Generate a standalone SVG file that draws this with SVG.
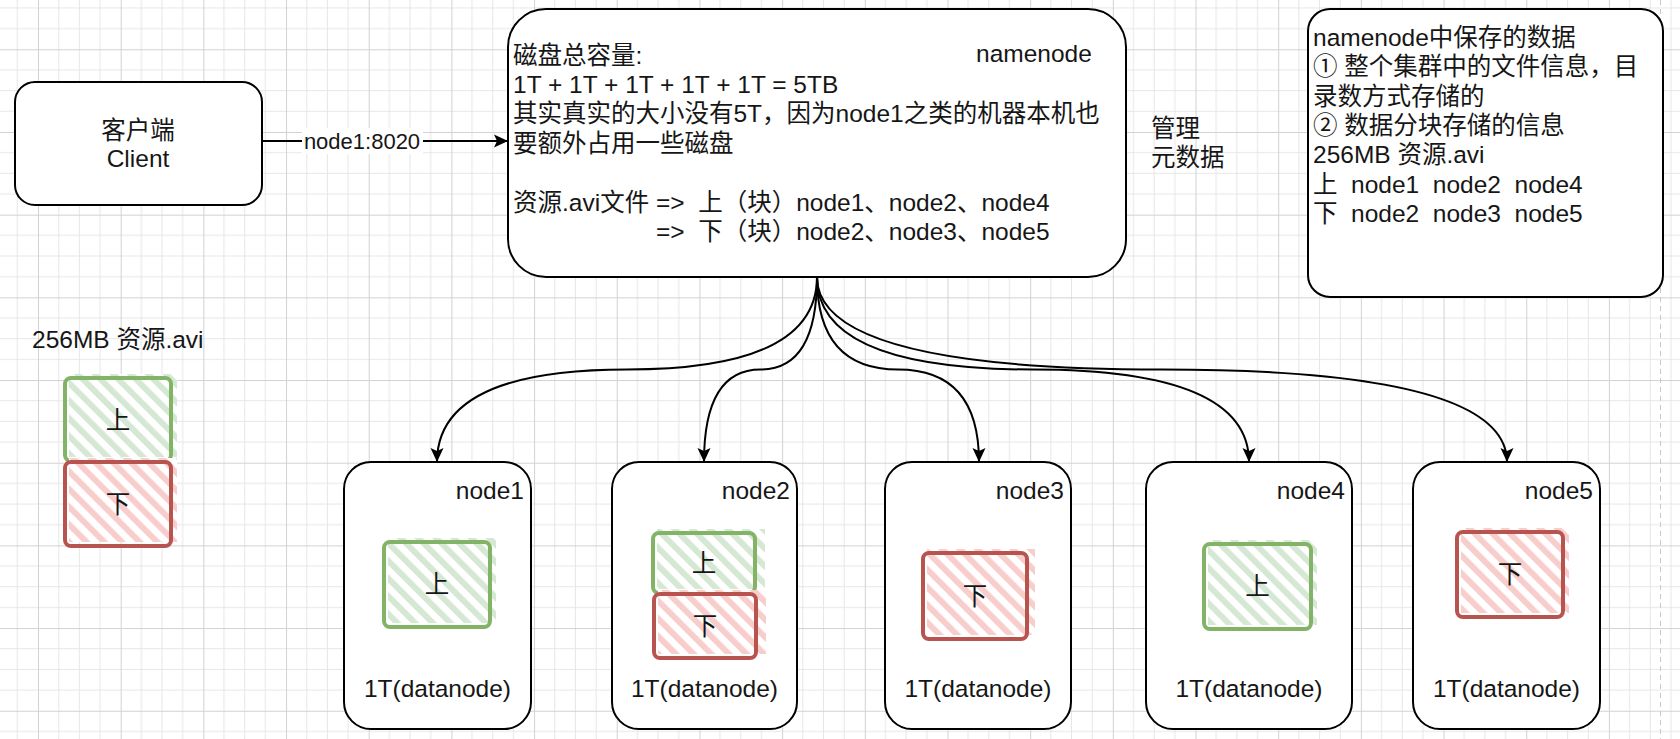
<svg xmlns="http://www.w3.org/2000/svg" width="1680" height="739" viewBox="0 0 1680 739">
<defs>
<style>
.t{font-family:"Liberation Sans","Noto Sans CJK SC",sans-serif;font-size:24.5px;fill:#161616}
.lbl{font-size:22px}
.box{fill:#fff;stroke:#000;stroke-width:2}
.edge{fill:none;stroke:#000;stroke-width:2}
.gb{fill:none;stroke:#82b366;stroke-width:4;stroke-linejoin:round}
.rb{fill:none;stroke:#b85450;stroke-width:4;stroke-linejoin:round}
.mid{text-anchor:middle}
.end{text-anchor:end}
</style>
<pattern id="grid" patternUnits="userSpaceOnUse" x="38" y="49.3" width="82.68" height="82.68">
<path d="M20.67,0V82.68M41.34,0V82.68M62.01,0V82.68M0,20.67H82.68M0,41.34H82.68M0,62.01H82.68" stroke="#e6e6e6" stroke-width="1"/>
<path d="M0.5,0V82.68M0,0.5H82.68" stroke="#d2d2d2" stroke-width="1"/>
</pattern>
<pattern id="hg" patternUnits="userSpaceOnUse" width="12.5" height="12.5" patternTransform="rotate(-45)">
<rect width="12.5" height="12.5" fill="#fff"/><rect width="6" height="12.5" fill="#d5e8d4"/>
</pattern>
<pattern id="hr" patternUnits="userSpaceOnUse" width="12.5" height="12.5" patternTransform="rotate(-45)">
<rect width="12.5" height="12.5" fill="#fff"/><rect width="6" height="12.5" fill="#f8cecc"/>
</pattern>
<marker id="arr" markerUnits="userSpaceOnUse" markerWidth="15" markerHeight="15" refX="14" refY="7.5" orient="auto">
<path d="M0,1 L14,7.5 L0,14 L3,7.5 Z" fill="#000"/>
</marker>
</defs>
<rect width="1680" height="739" fill="#fff"/>
<rect width="1680" height="739" fill="url(#grid)"/>
<path d="M1660.5,0V739" stroke="#c8c8c8" stroke-width="1" stroke-dasharray="5 4"/>

<g id="connectors">
<path class="edge" d="M262,141 H508" marker-end="url(#arr)"/>
<rect x="302" y="128" width="121" height="26" fill="#fff"/>
<text class="t lbl mid" x="362" y="149">node1:8020</text>
<path class="edge" d="M817,277 Q817,369.5 627,369.5 Q437,369.5 437,462" marker-end="url(#arr)"/>
<path class="edge" d="M817,277 Q817,369.5 760.5,369.5 Q704,369.5 704,462" marker-end="url(#arr)"/>
<path class="edge" d="M817,277 Q817,369.5 898,369.5 Q979,369.5 979,462" marker-end="url(#arr)"/>
<path class="edge" d="M817,277 Q817,369.5 1033,369.5 Q1249,369.5 1249,462" marker-end="url(#arr)"/>
<path class="edge" d="M817,277 Q817,369.5 1162,369.5 Q1507,369.5 1507,462" marker-end="url(#arr)"/>
</g>

<g id="client">
<rect class="box" x="15" y="82" width="247" height="123" rx="20"/>
<text class="t mid" x="138" y="139">客户端</text>
<text class="t mid" x="138" y="167">Client</text>
</g>

<g id="namenode">
<rect class="box" x="508" y="9" width="618" height="268" rx="38"/>
<text class="t" x="976" y="62">namenode</text>
<text class="t" x="513" y="63.5">磁盘总容量:</text>
<text class="t" x="513" y="92.9">1T + 1T + 1T + 1T + 1T = 5TB</text>
<text class="t" x="513" y="122.3">其实真实的大小没有5T，因为node1之类的机器本机也</text>
<text class="t" x="513" y="151.7">要额外占用一些磁盘</text>
<text class="t" x="513" y="210.5" xml:space="preserve">资源.avi文件 =&gt;  上（块）node1、node2、node4</text>
<text class="t" x="656" y="239.9" xml:space="preserve">=&gt;  下（块）node2、node3、node5</text>
</g>

<g id="meta-label">
<text class="t" x="1151" y="137">管理</text>
<text class="t" x="1151" y="166">元数据</text>
</g>

<g id="namenode-data">
<rect class="box" x="1308" y="9" width="355" height="288" rx="22"/>
<text class="t" x="1313" y="46">namenode中保存的数据</text>
<text class="t" x="1313" y="75.3">① 整个集群中的文件信息，目</text>
<text class="t" x="1313" y="104.6">录数方式存储的</text>
<text class="t" x="1313" y="134">② 数据分块存储的信息</text>
<text class="t" x="1313" y="163.2">256MB 资源.avi</text>
<text class="t" x="1313" y="192.5" xml:space="preserve">上  node1  node2  node4</text>
<text class="t" x="1313" y="221.8" xml:space="preserve">下  node2  node3  node5</text>
</g>

<g id="file">
<text class="t" x="32" y="348">256MB 资源.avi</text>
<rect x="69" y="374" width="108" height="83" fill="url(#hg)"/>
<rect class="gb" x="65" y="378" width="106" height="83" rx="6"/>
<text class="t mid" x="118" y="429">上</text>
<rect x="69" y="458" width="108" height="84" fill="url(#hr)"/>
<rect class="rb" x="65" y="462" width="106" height="84" rx="6"/>
<text class="t mid" x="118" y="513">下</text>
</g>

<g id="node1">
<rect class="box" x="344" y="462" width="187" height="267" rx="27"/>
<text class="t end" x="524" y="499">node1</text>
<rect x="388" y="538" width="108" height="85" fill="url(#hg)"/>
<rect class="gb" x="384" y="542" width="106" height="85" rx="6"/>
<text class="t mid" x="437" y="593">上</text>
<text class="t mid" x="437.5" y="697">1T(datanode)</text>
</g>

<g id="node2">
<rect class="box" x="612" y="462" width="185" height="267" rx="27"/>
<text class="t end" x="790" y="499">node2</text>
<rect x="657" y="529" width="108" height="60" fill="url(#hg)"/>
<rect class="gb" x="653" y="533" width="102" height="60" rx="6"/>
<text class="t mid" x="704" y="572">上</text>
<rect x="658" y="590" width="108" height="64" fill="url(#hr)"/>
<rect class="rb" x="654" y="594" width="102" height="64" rx="6"/>
<text class="t mid" x="705" y="635">下</text>
<text class="t mid" x="704.5" y="697">1T(datanode)</text>
</g>

<g id="node3">
<rect class="box" x="885" y="462" width="186" height="267" rx="27"/>
<text class="t end" x="1064" y="499">node3</text>
<rect x="927" y="549" width="108" height="86" fill="url(#hr)"/>
<rect class="rb" x="923" y="553" width="104" height="86" rx="6"/>
<text class="t mid" x="975" y="605">下</text>
<text class="t mid" x="978" y="697">1T(datanode)</text>
</g>

<g id="node4">
<rect class="box" x="1146" y="462" width="206" height="267" rx="27"/>
<text class="t end" x="1345" y="499">node4</text>
<rect x="1208" y="540" width="109" height="85" fill="url(#hg)"/>
<rect class="gb" x="1204" y="544" width="107" height="85" rx="6"/>
<text class="t mid" x="1257.5" y="595">上</text>
<text class="t mid" x="1249" y="697">1T(datanode)</text>
</g>

<g id="node5">
<rect class="box" x="1413" y="462" width="187" height="267" rx="27"/>
<text class="t end" x="1593" y="499">node5</text>
<rect x="1461" y="528" width="108" height="85" fill="url(#hr)"/>
<rect class="rb" x="1457" y="532" width="106" height="85" rx="6"/>
<text class="t mid" x="1510" y="583">下</text>
<text class="t mid" x="1506.5" y="697">1T(datanode)</text>
</g>
</svg>
